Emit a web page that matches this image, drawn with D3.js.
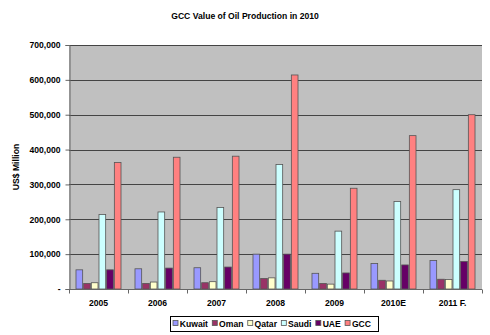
<!DOCTYPE html>
<html><head><meta charset="utf-8">
<script src="https://cdn.jsdelivr.net/npm/d3@7"></script>
<style>
html,body{margin:0;padding:0;background:#fff;}
svg{display:block;font-family:"Liberation Sans",Arial,sans-serif;}
</style></head>
<body><svg id="c" width="490" height="335"></svg>
<script>
const categories = ["2005","2006","2007","2008","2009","2010E","2011 F."];
const seriesNames = ["Kuwait","Oman","Qatar","Saudi","UAE","GCC"];
const kuwait = [55000, 58000, 61000, 100000, 45000, 73000, 82000];
const oman   = [16000, 16000, 18000, 30000, 16000, 25000, 28000];
const qatar  = [18000, 20000, 21000, 32000, 14000, 23000, 27000];
const saudi  = [214000, 221000, 234000, 357000, 166000, 251000, 285000];
const uae    = [55000, 60000, 63000, 100000, 46000, 69000, 79000];
const gcc    = [363000, 378000, 381000, 614000, 289000, 440000, 500000];
const yTicks = [0,100000,200000,300000,400000,500000,600000,700000];
const colors = ["#9999FF","#993366","#FFFFCC","#CCFFFF","#660066","#FF8080"];
const seriesValues = [kuwait, oman, qatar, saudi, uae, gcc];

const FS = 8.6;
const svg = d3.select("#c");
const L = 69, R = 482, T = 45, B = 289;

const x0 = d3.scaleBand().domain(categories).range([L, R]).paddingInner(0.22).paddingOuter(0.11);
const x1 = d3.scaleBand().domain(seriesNames).range([0, x0.bandwidth()]);
const y = d3.scaleLinear().domain([0, 700000]).range([B, T]);

// title
svg.append("text").attr("x", 245).attr("y", 19).attr("text-anchor","middle")
  .attr("font-size", FS).attr("font-weight","bold").attr("fill","#000")
  .text("GCC Value of Oil Production in 2010");

// plot area
svg.append("rect").attr("x", L).attr("y", T).attr("width", R-L).attr("height", B-T).attr("fill","#C0C0C0");

// gridlines
svg.append("g").selectAll("line").data(yTicks.filter(d=>d>0)).join("line")
  .attr("x1", L).attr("x2", R).attr("y1", d=>Math.round(y(d))+0.5).attr("y2", d=>Math.round(y(d))+0.5)
  .attr("stroke","#444").attr("stroke-width",1);

// bars
const groups = svg.append("g").selectAll("g").data(categories).join("g")
  .attr("transform", c=>`translate(${x0(c)},0)`);
groups.selectAll("rect").data((c,i)=>seriesNames.map((s,j)=>({s, v: seriesValues[j][i], j}))).join("rect")
  .attr("x", d=>x1(d.s)+0.5).attr("width", x1.bandwidth()-1)
  .attr("y", d=>y(d.v)).attr("height", d=>B - y(d.v))
  .attr("fill", d=>colors[d.j]).attr("stroke","#555").attr("stroke-width",0.8);

// y axis
const yAxis = d3.axisLeft(y).tickValues(yTicks).tickSize(4).tickPadding(5)
  .tickFormat(d=> d===0 ? "-" : d3.format(",")(d));
const ya = svg.append("g").attr("transform",`translate(${L+0.5},0)`).call(yAxis);
ya.select(".domain").attr("stroke","#666");
ya.selectAll(".tick line").attr("stroke","#666");
ya.selectAll("text").attr("font-size",FS).attr("font-weight","bold").attr("fill","#000")
  .attr("font-family","Liberation Sans, Arial, sans-serif");

// x axis
const xa = svg.append("g").attr("transform",`translate(0,${B+0.5})`);
xa.append("line").attr("x1",L).attr("x2",R).attr("stroke","#666");
const bounds = d3.range(categories.length+1).map(i=>L + i*(R-L)/categories.length);
xa.selectAll("line.tk").data(bounds).join("line").attr("class","tk")
  .attr("x1",d=>Math.round(d)+0.5).attr("x2",d=>Math.round(d)+0.5).attr("y1",0).attr("y2",4).attr("stroke","#666");
xa.selectAll("text").data(categories).join("text")
  .attr("x", c=>x0(c)+x0.bandwidth()/2).attr("y", 16).attr("text-anchor","middle")
  .attr("font-size",FS).attr("font-weight","bold").attr("fill","#000").text(d=>d);

// y label
svg.append("text").attr("transform","translate(18.5,167) rotate(-90)").attr("text-anchor","middle")
  .attr("font-size",FS).attr("font-weight","bold").attr("fill","#000").text("US$ Million");

// legend
const lg = svg.append("g");
lg.append("rect").attr("x",170.5).attr("y",316.5).attr("width",208).attr("height",15)
  .attr("fill","#fff").attr("stroke","#000").attr("stroke-width",1);
const texts = seriesNames.map((s)=> lg.append("text").attr("y",327).attr("font-size",FS)
  .attr("font-weight","bold").attr("fill","#000").text(s));
const widths = texts.map(t=>t.node().getComputedTextLength());
const startX = 173, endX = 371, sw = 5, swGap = 1.8;
const itemGap = (endX - startX - d3.sum(widths) - seriesNames.length*(sw+swGap)) / (seriesNames.length-1);
let lx = startX;
seriesNames.forEach((s,j)=>{
  lg.append("rect").attr("x",lx).attr("y",320.5).attr("width",sw).attr("height",sw)
    .attr("fill",colors[j]).attr("stroke","#555").attr("stroke-width",0.8);
  texts[j].attr("x", lx+sw+swGap);
  lx += sw + swGap + widths[j] + itemGap;
});
</script></body></html>
